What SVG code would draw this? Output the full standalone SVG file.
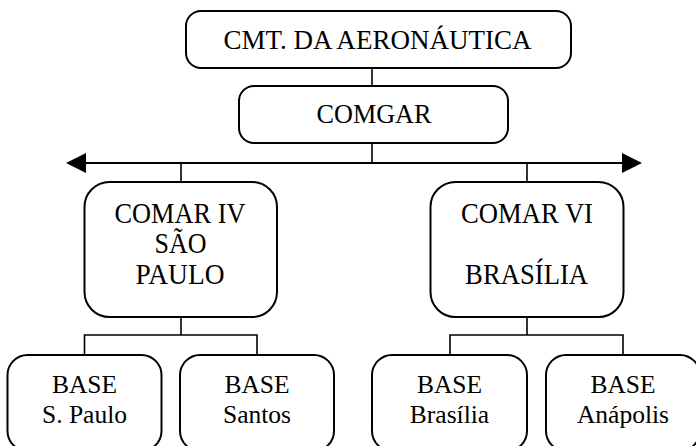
<svg xmlns="http://www.w3.org/2000/svg" width="696" height="446" viewBox="0 0 696 446">
  <style>
    .box { fill: #ffffff; stroke: #000000; stroke-width: 2; }
    .lbl { font-family: "Liberation Serif", "Times New Roman", serif; font-size: 28px; fill: #000000; text-anchor: middle; }
    .big { font-size: 28.5px; }
    .small { font-size: 25.5px; }
    .conn { stroke: #000000; stroke-width: 1.6; fill: none; }
    .bus { stroke: #000000; stroke-width: 2; fill: none; }
  </style>
  <defs>
    <marker id="arrow" markerUnits="userSpaceOnUse" markerWidth="20" markerHeight="20" refX="0" refY="10" orient="auto-start-reverse">
      <path d="M0,0 L20,10 L0,20 Z" fill="#000000"/>
    </marker>
  </defs>
  <rect width="696" height="446" fill="#ffffff"/>

  <g id="connectors">
    <line class="conn" x1="372" y1="68" x2="372" y2="86"/>
    <line class="conn" x1="372" y1="143" x2="372" y2="163"/>
    <line class="bus" x1="86" y1="163" x2="622" y2="163" marker-start="url(#arrow)" marker-end="url(#arrow)"/>
    <line class="conn" x1="181" y1="163" x2="181" y2="182"/>
    <line class="conn" x1="527" y1="163" x2="527" y2="182"/>
    <path class="conn" d="M181,317 V335 M84.5,355 V335 H257 V355"/>
    <path class="conn" d="M527,317 V335 M450,355 V335 H623 V355"/>
  </g>

  <g id="cmt">
    <rect class="box" x="186" y="11" width="385" height="57" rx="15" ry="15"/>
    <text class="lbl" x="377.5" y="48.5" textLength="308" lengthAdjust="spacingAndGlyphs">CMT. DA AERONÁUTICA</text>
  </g>
  <g id="comgar">
    <rect class="box" x="239" y="86" width="269" height="57" rx="15" ry="15"/>
    <text class="lbl" x="374" y="123.3" textLength="115" lengthAdjust="spacingAndGlyphs">COMGAR</text>
  </g>
  <g id="comar-iv">
    <rect class="box" x="84.5" y="182" width="192.5" height="135" rx="25" ry="25"/>
    <text class="lbl big" x="180" y="222.7" textLength="131" lengthAdjust="spacingAndGlyphs">COMAR IV</text>
    <text class="lbl big" x="180.5" y="253.3" textLength="52" lengthAdjust="spacingAndGlyphs">SÃO</text>
    <text class="lbl big" x="180" y="284" textLength="89" lengthAdjust="spacingAndGlyphs">PAULO</text>
  </g>
  <g id="comar-vi">
    <rect class="box" x="430.5" y="182" width="193" height="135" rx="25" ry="25"/>
    <text class="lbl big" x="527" y="222.7" textLength="132" lengthAdjust="spacingAndGlyphs">COMAR VI</text>
    <text class="lbl big" x="526.6" y="284" textLength="123" lengthAdjust="spacingAndGlyphs">BRASÍLIA</text>
  </g>
  <g id="base-sao-paulo">
    <rect class="box" x="7.5" y="355" width="154" height="96" rx="20" ry="20"/>
    <text class="lbl small" x="84.5" y="393.3">BASE</text>
    <text class="lbl small" x="84.5" y="423">S. Paulo</text>
  </g>
  <g id="base-santos">
    <rect class="box" x="180" y="355" width="154" height="96" rx="20" ry="20"/>
    <text class="lbl small" x="257" y="393.3">BASE</text>
    <text class="lbl small" x="257" y="423">Santos</text>
  </g>
  <g id="base-brasilia">
    <rect class="box" x="372" y="355" width="155" height="96" rx="20" ry="20"/>
    <text class="lbl small" x="449.5" y="393.3">BASE</text>
    <text class="lbl small" x="449.5" y="423">Brasília</text>
  </g>
  <g id="base-anapolis">
    <rect class="box" x="546" y="355" width="154" height="96" rx="20" ry="20"/>
    <text class="lbl small" x="623" y="393.3">BASE</text>
    <text class="lbl small" x="623" y="423">Anápolis</text>
  </g>
</svg>
